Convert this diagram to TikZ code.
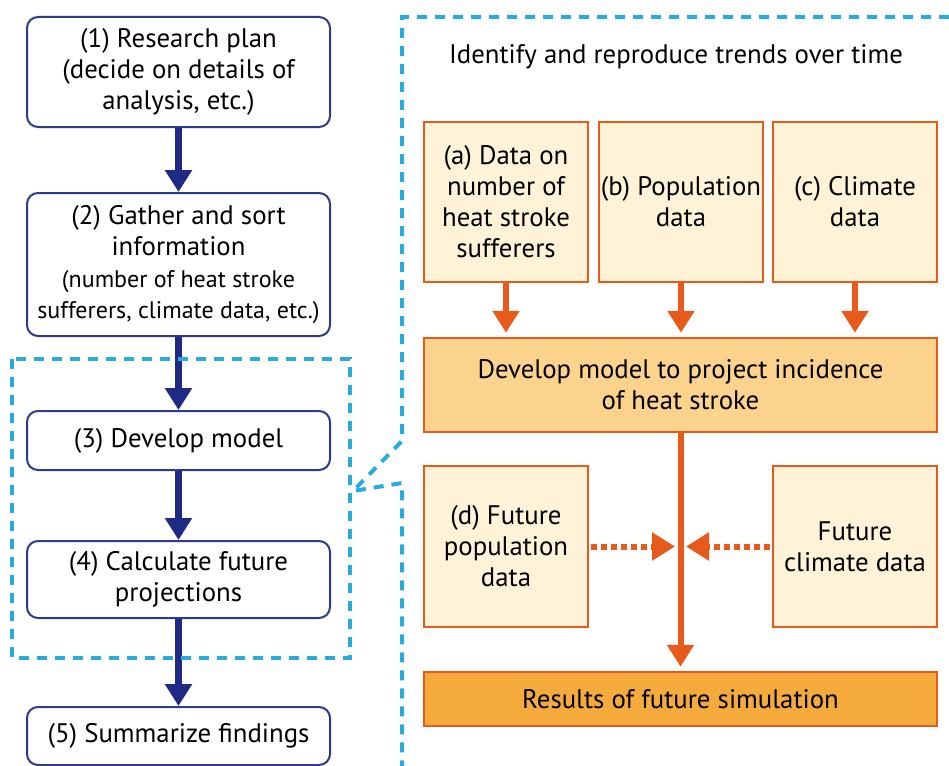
\documentclass[tikz,border=0pt]{standalone}
\usepackage{fontspec}
\setmainfont{PT Sans}
\usetikzlibrary{arrows.meta}
\definecolor{navy}{HTML}{1E2A84}
\definecolor{navyb}{HTML}{2E3A8C}
\definecolor{org}{HTML}{E85A1B}
\definecolor{lfill}{HTML}{FFF3D7}
\definecolor{mfill}{HTML}{FBD38D}
\definecolor{rfill}{HTML}{F5AB3B}
\definecolor{dblue}{HTML}{29ABE2}
\begin{document}
\begin{tikzpicture}[x=1pt,y=-1pt,
  every node/.style={font=\fontsize{26.8}{31}\selectfont, align=center, inner sep=0pt},
  lbox/.style={draw=navyb, line width=2pt, rounded corners=11pt, fill=white, minimum width=303pt},
  obox/.style={draw=org, line width=2.5pt, fill=lfill, minimum width=164pt, minimum height=160pt},
  narrow/.style={draw=navy, line width=7pt, -{Triangle[width=26pt,length=22pt]}},
  oarrow/.style={draw=org, line width=6pt, -{Triangle[width=26pt,length=22pt]}},
  odot/.style={draw=org, line width=6pt, dash pattern=on 6pt off 4pt, -{Triangle[width=27pt,length=23pt]}},
  bdash/.style={draw=dblue, line width=4pt, dash pattern=on 10pt off 8pt}
]
\useasboundingbox (0,0) rectangle (949,765);

% left column
\node[lbox, minimum height=110pt] (n1) at (178.5,72) {(1) Research plan\\(decide on details of\\analysis, etc.)};
\node[lbox, minimum height=143pt] (n2) at (178.5,264.5) {(2) Gather and sort\\information\\[1pt]{\fontsize{24}{30}\selectfont (number of heat stroke}\\{\fontsize{24}{30}\selectfont sufferers, climate data, etc.)}};
\node[lbox, minimum height=59pt] (n3) at (178.5,440.5) {(3) Develop model};
\node[lbox, minimum height=77pt] (n4) at (178.5,579.5) {(4) Calculate future\\projections};
\node[lbox, minimum height=58pt] (n5) at (178.5,736) {(5) Summarize findings};

\draw[narrow] (n1) -- (n2);
\draw[narrow] (n2) -- (n3);
\draw[narrow] (n3) -- (n4);
\draw[narrow] (n4) -- (n5);

% dashed frames
\draw[bdash] (12,359) rectangle (350,658);
\draw[bdash] (949,17) -- (402,17) -- (402,441) -- (353,491) -- (402,483) -- (402,780);

% right side
\node (title) at (676,57) {Identify and reproduce trends over time};

\node[obox] (a) at (506,202) {(a) Data on\\number of\\heat stroke\\sufferers};
\node[obox] (b) at (681,202) {(b) Population\\data};
\node[obox] (c) at (855,202) {(c) Climate\\data};

\node[draw=org, line width=2.5pt, fill=mfill, minimum width=513pt, minimum height=94pt] (m) at (680.5,385) {Develop model to project incidence\\of heat stroke};

\draw[oarrow, shorten >=4pt] (a) -- (a |- m.north);
\draw[oarrow, shorten >=4pt] (b) -- (b |- m.north);
\draw[oarrow, shorten >=4pt] (c) -- (c |- m.north);

\node[obox, minimum height=161pt] (d) at (506,546.5) {(d) Future\\population\\data};
\node[obox, minimum height=161pt] (fc) at (855,546.5) {Future\\climate data};

\node[draw=org, line width=2.5pt, fill=rfill, minimum width=513pt, minimum height=54pt] (r) at (680.5,699) {Results of future simulation};

\draw[oarrow, shorten >=4pt] (m) -- (r);

\coordinate (jl) at (675,546.5);
\coordinate (jr) at (686,546.5);
\draw[odot, shorten <=2pt] (d) -- (jl);
\draw[odot, shorten <=2pt] (fc) -- (jr);
\end{tikzpicture}
\end{document}
